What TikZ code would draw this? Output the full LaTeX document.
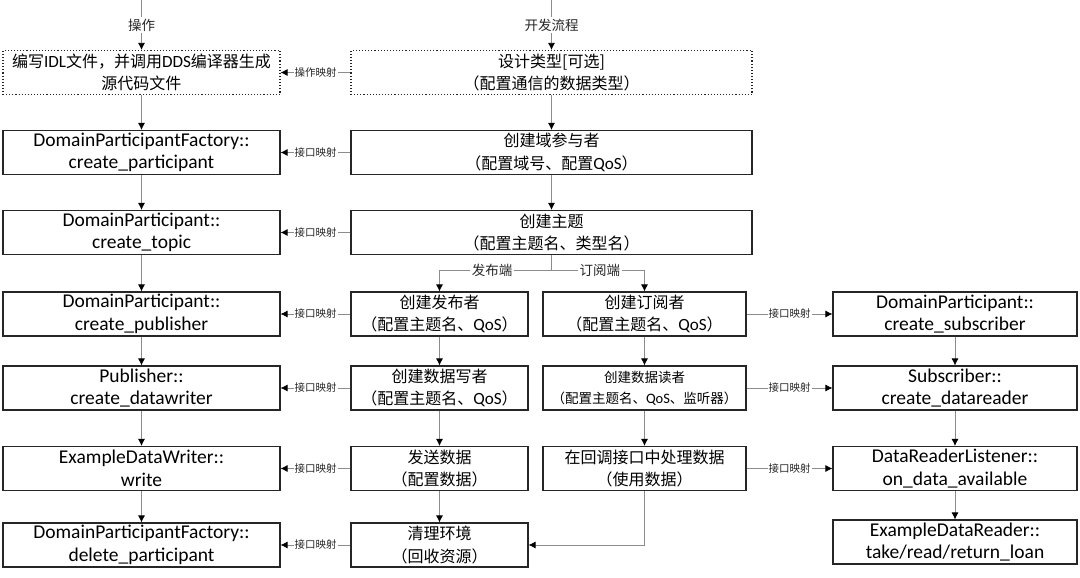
\documentclass[tikz,border=0pt]{standalone}
\usepackage{fontspec}
\setmainfont{Carlito}
\newfontfamily\cjk{Noto Sans CJK SC}
\newfontfamily\latf[Scale=1.07]{Carlito}
\newcommand\lt[1]{{\latf #1}}
\usetikzlibrary{arrows.meta}
\begin{document}
\begin{tikzpicture}[x=1pt,y=-1pt,
  box/.style={draw=black!85, line width=1.1pt, minimum height=44pt, inner sep=0pt, align=center},
  dbox/.style={box, dotted},
  lw/.style={minimum width=277pt},
  mw/.style={minimum width=401pt},
  pw/.style={minimum width=177pt},
  sw/.style={minimum width=203pt},
  rw/.style={minimum width=244pt},
  lat/.style={font=\fontsize{19.5}{22.5}\selectfont},
  zh/.style={font=\cjk\fontsize{16}{22.5}\selectfont},
  zhs/.style={font=\cjk\fontsize{13.5}{21}\selectfont},
  conn/.style={draw=black!45, line width=0.8pt, -{Latex[length=7pt,width=7pt,color=black]}},
  lbl/.style={fill=white, inner sep=1.5pt, font=\cjk\fontsize{13.5}{15}\selectfont, text=black!85},
  slbl/.style={fill=white, inner sep=1pt, font=\cjk\fontsize{10.5}{12}\selectfont, text=black!85}
]
\useasboundingbox[fill=white] (0,0) rectangle (1080,578);

% left column
\node[dbox,lw,zh] (L1) at (141.5,72.5) {编写\lt{IDL}文件，并调用\lt{DDS}编译器生成\\源代码文件};
\node[box,lw,lat] (L2) at (141.5,152.5) {DomainParticipantFactory::\\create\_participant};
\node[box,lw,lat] (L3) at (141.5,232.5) {DomainParticipant::\\create\_topic};
\node[box,lw,lat] (L4) at (141.5,314) {DomainParticipant::\\create\_publisher};
\node[box,lw,lat] (L5) at (141.5,388) {Publisher::\\create\_datawriter};
\node[box,lw,lat] (L6) at (141.5,468.5) {ExampleDataWriter::\\write};
\node[box,lw,lat] (L7) at (141.5,545) {DomainParticipantFactory::\\delete\_participant};

% middle column
\node[dbox,mw,zh] (M1) at (551.5,72.5) {设计类型[可选]\\（配置通信的数据类型）};
\node[box,mw,zh] (M2) at (551.5,152.5) {创建域参与者\\（配置域号、配置\lt{QoS}）};
\node[box,mw,zh] (M3) at (551.5,232.5) {创建主题\\（配置主题名、类型名）};

\node[box,pw,zh] (P1) at (439.5,314) {创建发布者\\（配置主题名、\lt{QoS}）};
\node[box,pw,zh] (P2) at (439.5,388) {创建数据写者\\（配置主题名、\lt{QoS}）};
\node[box,pw,zh] (P3) at (439.5,468.5) {发送数据\\（配置数据）};
\node[box,pw,zh] (P4) at (439.5,545) {清理环境\\（回收资源）};

\node[box,sw,zh] (S1) at (644.5,314) {创建订阅者\\（配置主题名、\lt{QoS}）};
\node[box,sw,zhs] (S2) at (644.5,388) {创建数据读者\\（配置主题名、\lt{QoS}、监听器）};
\node[box,sw,zh] (S3) at (644.5,468.5) {在回调接口中处理数据\\（使用数据）};

% right column
\node[box,rw,lat] (R1) at (955,314) {DomainParticipant::\\create\_subscriber};
\node[box,rw,lat] (R2) at (955,388) {Subscriber::\\create\_datareader};
\node[box,rw,lat] (R3) at (955,468.5) {DataReaderListener::\\on\_data\_available};
\node[box,rw,lat] (R4) at (955,542) {ExampleDataReader::\\take/read/return\_loan};

% entry arrows
\coordinate (t1) at (141.5,0);
\coordinate (t2) at (551.5,0);
\draw[conn] (t1) -- node[lbl]{操作} (L1);
\draw[conn] (t2) -- node[lbl]{开发流程} (M1);

% vertical flows
\draw[conn] (L1) -- (L2);
\draw[conn] (L2) -- (L3);
\draw[conn] (L3) -- (L4);
\draw[conn] (L4) -- (L5);
\draw[conn] (L5) -- (L6);
\draw[conn] (L6) -- (L7);
\draw[conn] (M1) -- (M2);
\draw[conn] (M2) -- (M3);
\draw[conn] (P1) -- (P2);
\draw[conn] (P2) -- (P3);
\draw[conn] (P3) -- (P4);
\draw[conn] (S1) -- (S2);
\draw[conn] (S2) -- (S3);
\draw[conn] (R1) -- (R2);
\draw[conn] (R2) -- (R3);
\draw[conn] (R3) -- (R4);

% branch
\draw[conn] (M3.south) -- ++(0,15.5) coordinate (br) -| node[lbl,pos=0.265]{发布端} (P1.north);
\draw[conn] (br) -| node[lbl,pos=0.26]{订阅端} (S1.north);

% bottom return
\draw[conn] (S3.south) |- (P4.east);

% mappings
\draw[conn] (M1.west) -- node[slbl]{操作映射} (L1.east);
\draw[conn] (M2.west) -- node[slbl]{接口映射} (L2.east);
\draw[conn] (M3.west) -- node[slbl]{接口映射} (L3.east);
\draw[conn] (P1.west) -- node[slbl]{接口映射} (L4.east);
\draw[conn] (P2.west) -- node[slbl]{接口映射} (L5.east);
\draw[conn] (P3.west) -- node[slbl]{接口映射} (L6.east);
\draw[conn] (P4.west) -- node[slbl]{接口映射} (L7.east);
\draw[conn] (S1.east) -- node[slbl]{接口映射} (R1.west);
\draw[conn] (S2.east) -- node[slbl]{接口映射} (R2.west);
\draw[conn] (S3.east) -- node[slbl]{接口映射} (R3.west);
\end{tikzpicture}
\end{document}
